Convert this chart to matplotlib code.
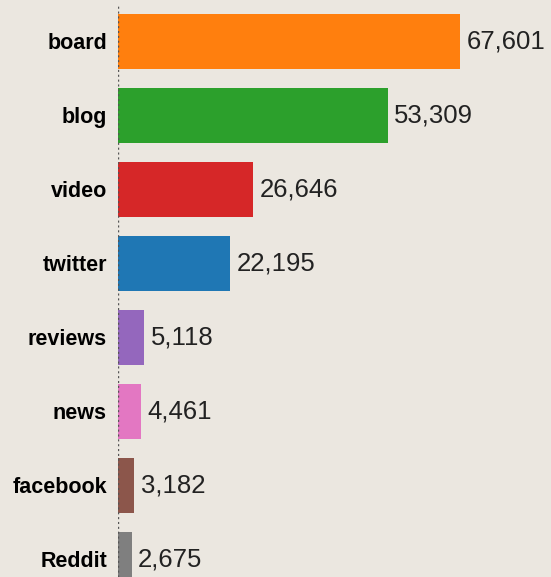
import matplotlib.pyplot as plt

categories = ['board', 'blog', 'video', 'twitter', 'reviews', 'news', 'facebook', 'Reddit']
values = [67601, 53309, 26646, 22195, 5118, 4461, 3182, 2675]
colors = ['#ff7f0e', '#2ca02c', '#d62728', '#1f77b4', '#9467bd', '#e377c2', '#8c564b', '#7f7f7f']

bg = '#ebe7e0'
plt.rcParams['font.family'] = ['Liberation Sans', 'DejaVu Sans']

fig = plt.figure(figsize=(5.51, 5.77), dpi=100, facecolor=bg)
ax = fig.add_axes([118 / 551, 0, (551 - 118) / 551, 573 / 577])
ax.set_facecolor(bg)

y = list(range(len(categories)))
ax.barh(y, values, height=0.75, color=colors)
for yi, v in zip(y, values):
    ax.text(v + 1300, yi, f'{v:,}', va='center', ha='left', fontsize=18.5, color='#222222')

ax.axvline(0, color='#555555', linestyle=(0, (1.5, 2)), linewidth=1)

ax.set_xlim(0, 85590)
ax.set_ylim(7.24, -0.505)
ax.set_yticks(y)
ax.set_yticklabels(categories, fontsize=15.5, fontweight='bold')
ax.tick_params(axis='y', length=0, pad=8)
ax.set_xticks([])
for s in ax.spines.values():
    s.set_visible(False)

fig.savefig('out.png', dpi=100, facecolor=bg)
